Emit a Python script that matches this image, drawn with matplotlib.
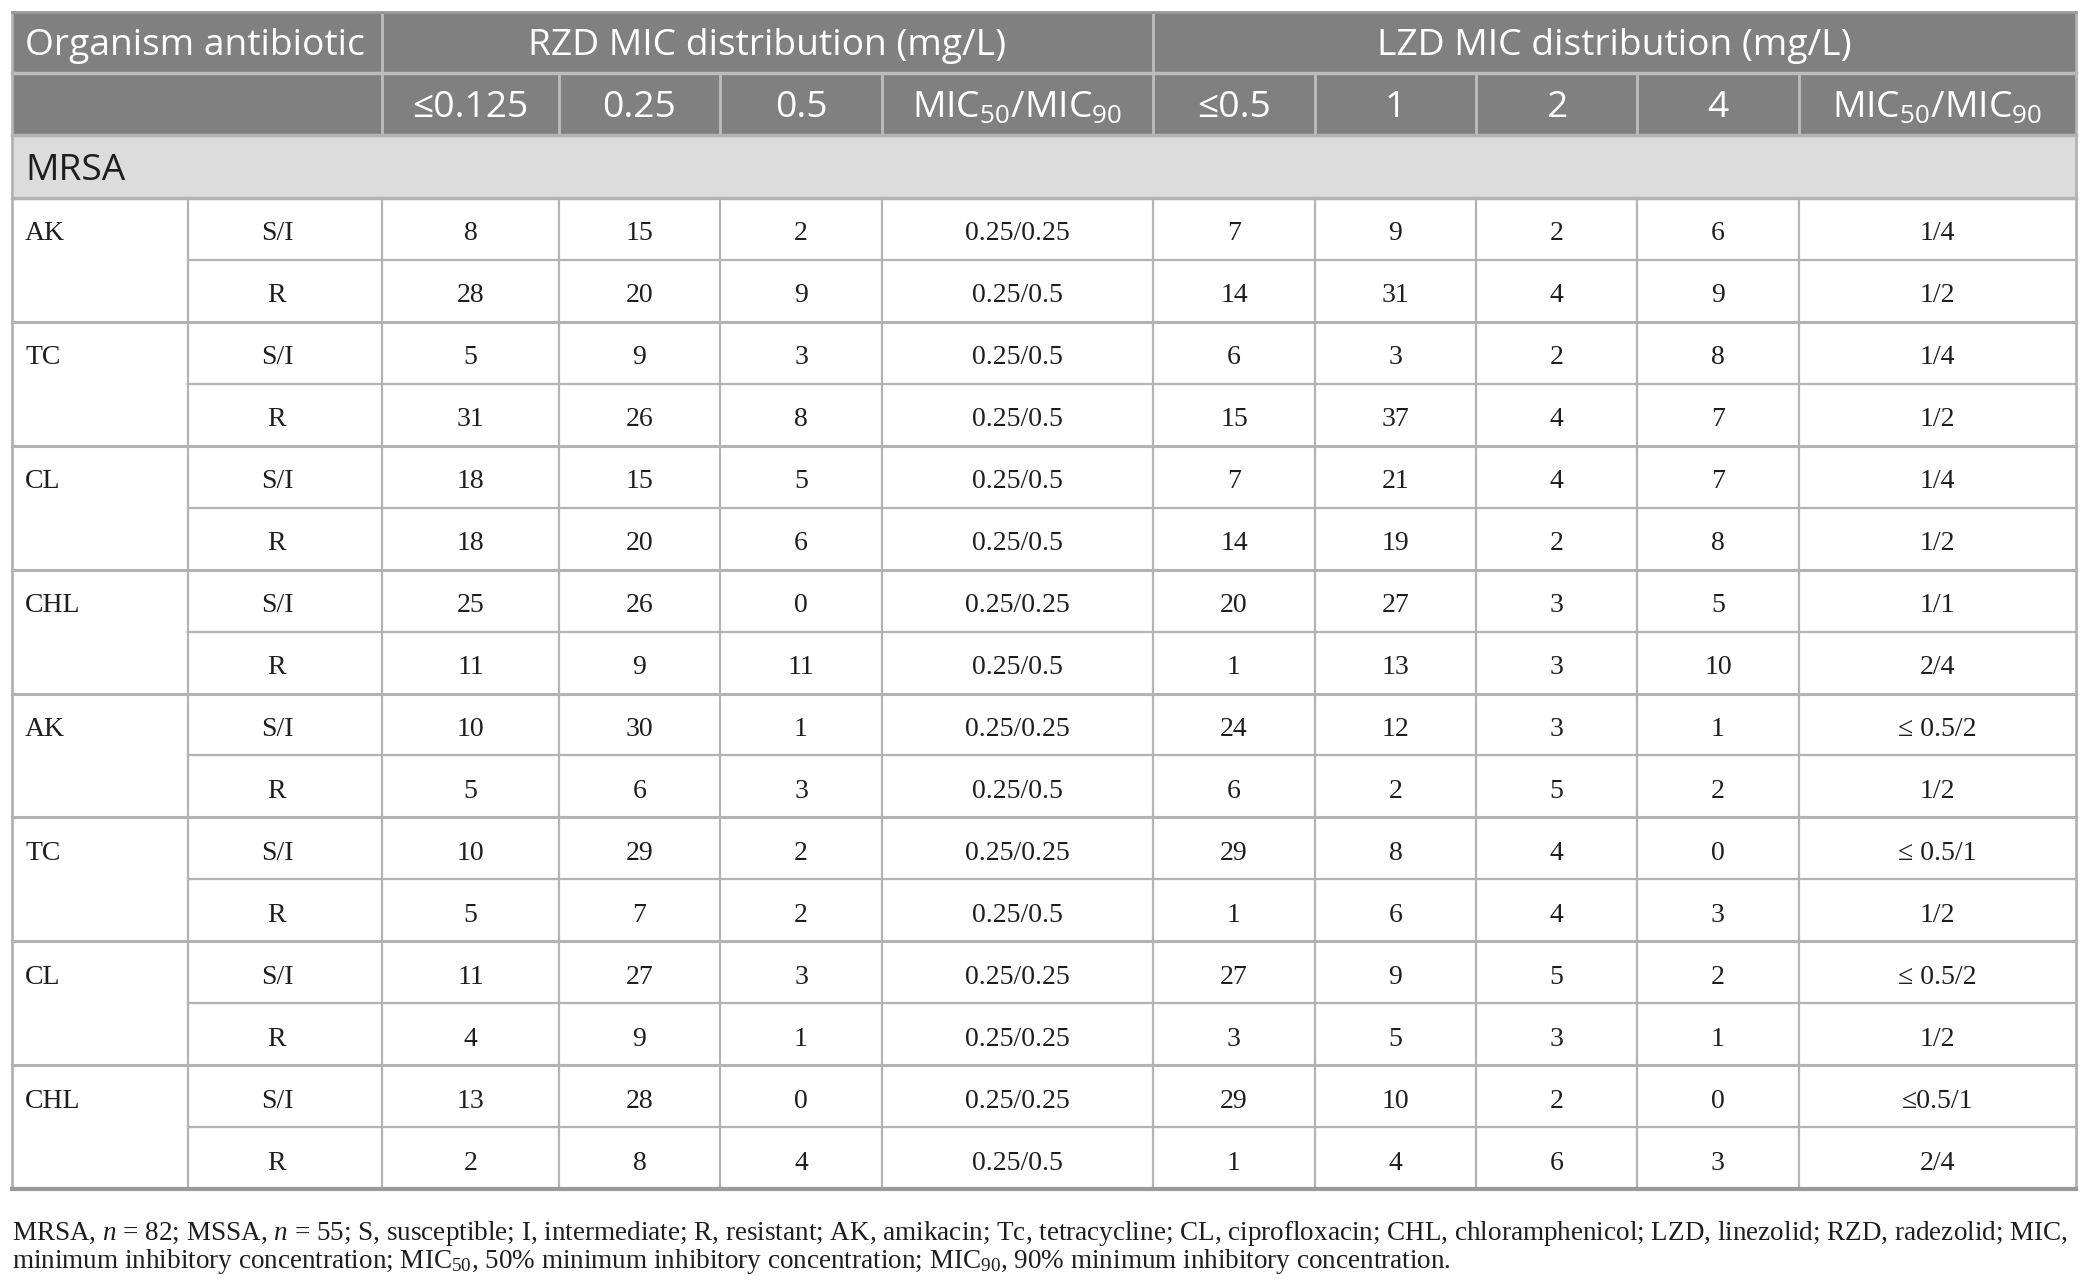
import matplotlib
matplotlib.use("Agg")
import matplotlib.pyplot as plt
from matplotlib.patches import Rectangle

plt.rcParams['mathtext.fontset'] = 'custom'
plt.rcParams['mathtext.rm'] = 'Liberation Serif'
plt.rcParams['mathtext.it'] = 'Liberation Serif:italic'
plt.rcParams['mathtext.default'] = 'regular'

# ---- data ----
groups = ["AK", "TC", "CL", "CHL", "AK", "TC", "CL", "CHL"]
status = ["S/I", "R"]
rzd_le0125 = [8, 28, 5, 31, 18, 18, 25, 11, 10, 5, 10, 5, 11, 4, 13, 2]
rzd_025 = [15, 20, 9, 26, 15, 20, 26, 9, 30, 6, 29, 7, 27, 9, 28, 8]
rzd_05 = [2, 9, 3, 8, 5, 6, 0, 11, 1, 3, 2, 2, 3, 1, 0, 4]
rzd_mic = ["0.25/0.25", "0.25/0.5", "0.25/0.5", "0.25/0.5", "0.25/0.5", "0.25/0.5",
           "0.25/0.25", "0.25/0.5", "0.25/0.25", "0.25/0.5", "0.25/0.25", "0.25/0.5",
           "0.25/0.25", "0.25/0.25", "0.25/0.25", "0.25/0.5"]
lzd_le05 = [7, 14, 6, 15, 7, 14, 20, 1, 24, 6, 29, 1, 27, 3, 29, 1]
lzd_1 = [9, 31, 3, 37, 21, 19, 27, 13, 12, 2, 8, 6, 9, 5, 10, 4]
lzd_2 = [2, 4, 2, 4, 4, 2, 3, 3, 3, 5, 4, 4, 5, 3, 2, 6]
lzd_4 = [6, 9, 8, 7, 7, 8, 5, 10, 1, 2, 0, 3, 2, 1, 0, 3]
lzd_mic = ["1/4", "1/2", "1/4", "1/2", "1/4", "1/2", "1/1", "2/4",
           "≤ 0.5/2", "1/2", "≤ 0.5/1", "1/2", "≤ 0.5/2", "1/2", "≤0.5/1", "2/4"]

top_header = ["Organism antibiotic", "RZD MIC distribution (mg/L)", "LZD MIC distribution (mg/L)"]
sub_header = ["≤0.125", "0.25", "0.5", "MIC$_{50}$/MIC$_{90}$",
              "≤0.5", "1", "2", "4", "MIC$_{50}$/MIC$_{90}$"]
section = "MRSA"
footnote = [
    "MRSA, $\\mathit{n}$ = 82; MSSA, $\\mathit{n}$ = 55; S, susceptible; I, intermediate; R, resistant; "
    "AK, amikacin; Tc, tetracycline; CL, ciprofloxacin; CHL, chloramphenicol; LZD, linezolid; RZD, radezolid; MIC,",
    "minimum inhibitory concentration; MIC$_{50}$, 50% minimum inhibitory concentration; "
    "MIC$_{90}$, 90% minimum inhibitory concentration.",
]

# ---- layout (pixels) ----
W, H = 2088, 1285
col_x = [12, 188, 382, 559, 720, 882, 1153, 1315, 1476, 1637, 1799, 2076]
y_top, y_h1, y_h2, y_sec = 12, 73, 135, 198
y_bot = 1189
n_rows = len(rzd_le0125)
row_h = (y_bot - y_sec) / n_rows

HEAD = "#808080"
BAND = "#dcdcdc"
GRID = "#b3b3b3"
INK = "#1e1e1e"
sans = ["Open Sans", "DejaVu Sans"]
serif = ["Liberation Serif", "DejaVu Serif"]

fig = plt.figure(figsize=(W / 100, H / 100), dpi=100)
ax = fig.add_axes([0, 0, 1, 1])
ax.set_xlim(0, W)
ax.set_ylim(H, 0)
ax.axis("off")

L, R = col_x[0], col_x[-1]
ax.add_patch(Rectangle((L, y_top), R - L, y_h2 - y_top, color=HEAD, lw=0))
ax.add_patch(Rectangle((L, y_h2), R - L, y_sec - y_h2, color=BAND, lw=0))

# header separators
ax.plot([L, R], [y_h1, y_h1], color="#bdbdbd", lw=2.5)
for x in [col_x[2], col_x[6]]:
    ax.plot([x, x], [y_top, y_h1], color="#bdbdbd", lw=2)
for x in col_x[2:-1]:
    ax.plot([x, x], [y_h1, y_h2], color="#bdbdbd", lw=2)
ax.plot([L, R], [y_h2, y_h2], color=GRID, lw=2.5)
ax.plot([L, R], [y_sec, y_sec], color=GRID, lw=2.5)

# header text
hfs = 26.8
dy_h = 4
ax.text(L + 13, (y_top + y_h1) / 2 + dy_h, top_header[0], color="white", fontsize=hfs,
        family=sans, ha="left", va="center")
ax.text((col_x[2] + col_x[6]) / 2, (y_top + y_h1) / 2 + dy_h, top_header[1], color="white",
        fontsize=hfs, family=sans, ha="center", va="center")
ax.text((col_x[6] + col_x[-1]) / 2, (y_top + y_h1) / 2 + dy_h, top_header[2], color="white",
        fontsize=hfs, family=sans, ha="center", va="center")
for i, lab in enumerate(sub_header):
    xc = (col_x[i + 2] + col_x[i + 3]) / 2
    ax.text(xc, (y_h1 + y_h2) / 2 + 4, lab, color="white", fontsize=hfs,
            family=sans, ha="center", va="center")
ax.text(L + 13, (y_h2 + y_sec) / 2 + 5, section, color=INK, fontsize=hfs,
        family=sans, ha="left", va="center")

# body
columns = [rzd_le0125, rzd_025, rzd_05, rzd_mic, lzd_le05, lzd_1, lzd_2, lzd_4, lzd_mic]
bfs = 20
for r in range(n_rows):
    y0 = y_sec + r * row_h
    yc = y0 + row_h / 2 + 5
    if r % 2 == 0:
        ax.text(L + 13, yc, groups[r // 2], fontsize=bfs, family=serif,
                ha="left", va="center", color=INK)
    ax.text((col_x[1] + col_x[2]) / 2 - 8, yc, status[r % 2], fontsize=bfs, family=serif,
            ha="center", va="center", color=INK)
    for c, vals in enumerate(columns):
        xc = (col_x[c + 2] + col_x[c + 3]) / 2
        ax.text(xc, yc, str(vals[r]), fontsize=bfs, family=serif,
                ha="center", va="center", color=INK)
    if r > 0:
        if r % 2 == 0:
            ax.plot([L, R], [y0, y0], color=GRID, lw=2.2)
        else:
            ax.plot([col_x[1], R], [y0, y0], color=GRID, lw=1.6)

for x in col_x[1:-1]:
    ax.plot([x, x], [y_sec, y_bot], color=GRID, lw=1.6)

# outer frame
ax.plot([L, L], [y_top, y_bot], color=GRID, lw=2)
ax.plot([R, R], [y_top, y_bot], color=GRID, lw=2)
ax.plot([L, R], [y_top, y_top], color="#9a9a9a", lw=2)
ax.plot([L, R], [y_bot, y_bot], color="#9a9a9a", lw=3)

# footnote
ffs = 19.5
for i, line in enumerate(footnote):
    ax.text(L, 1233 + i * 29, line, fontsize=ffs, family=serif, ha="left",
            va="center", color=INK)

fig.savefig("out.png", dpi=100)
